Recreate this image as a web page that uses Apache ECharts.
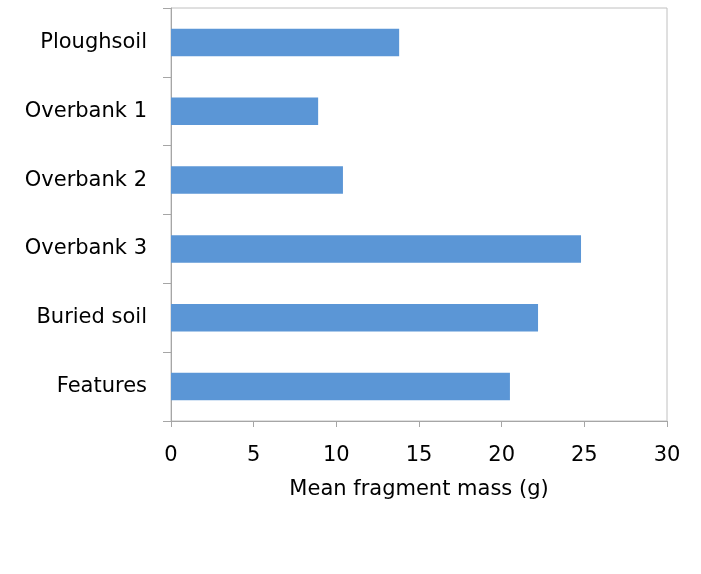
<!DOCTYPE html>
<html><head><meta charset="utf-8">
<script src="https://cdn.jsdelivr.net/npm/echarts@6/dist/echarts.min.js"></script>
<style>html,body{margin:0;padding:0;background:#fff}#c{width:701px;height:574px}</style>
</head><body><div id="c"></div>
<script>
const categories = ["Ploughsoil", "Overbank 1", "Overbank 2", "Overbank 3", "Buried soil", "Features"];
const values = [13.8, 8.9, 10.4, 24.8, 22.2, 20.5];
const xTicks = [0, 5, 10, 15, 20, 25, 30];

const chart = echarts.init(document.getElementById('c'));
chart.setOption({
  animation: false,
  grid: { left: 171, right: 34, top: 8, bottom: 153, show: true, borderColor: '#c0c0c0', borderWidth: 1 },
  xAxis: {
    type: 'value', min: xTicks[0], max: xTicks[xTicks.length - 1], interval: 5,
    name: 'Mean fragment mass (g)', nameLocation: 'middle', nameGap: 58,
    nameTextStyle: { fontFamily: 'DejaVu Sans', fontSize: 21, color: '#000' },
    axisLine: { show: true, lineStyle: { color: '#a6a6a6' } },
    axisTick: { show: true, length: 6, lineStyle: { color: '#a6a6a6' } },
    axisLabel: { fontFamily: 'DejaVu Sans', fontSize: 21, color: '#000', margin: 24 },
    splitLine: { show: false }
  },
  yAxis: {
    type: 'category', data: categories, inverse: true,
    axisLine: { show: true, lineStyle: { color: '#a6a6a6' } },
    axisTick: { show: true, length: 8, lineStyle: { color: '#a6a6a6' } },
    axisLabel: { fontFamily: 'DejaVu Sans', fontSize: 21, color: '#000', margin: 24 }
  },
  series: [{
    type: 'bar', data: values, barCategoryGap: '60%',
    itemStyle: { color: '#5b96d6' }
  }]
});
</script></body></html>
